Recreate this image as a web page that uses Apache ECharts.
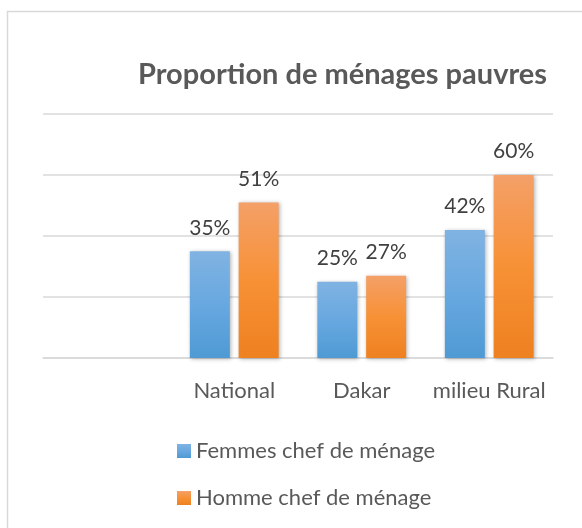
<!DOCTYPE html>
<html>
<head>
<meta charset="utf-8">
<script src="https://cdn.jsdelivr.net/npm/echarts@6/dist/echarts.min.js"></script>
<style>
  html, body { margin: 0; padding: 0; background: #fff; }
  #chart { width: 582px; height: 528px; }
</style>
</head>
<body>
<div id="chart"></div>
<script>
// first category is left empty, like in the source sheet
const categories = ['', 'National', 'Dakar', 'milieu Rural'];
const femmes = [null, 35, 25, 42];
const hommes = [null, 51, 27, 60];
const seriesNames = ['Femmes chef de ménage', 'Homme chef de ménage'];

const font = 'Lato, "Open Sans", sans-serif';

function grad(top, mid, bottom) {
  return new echarts.graphic.LinearGradient(0, 0, 0, 1, [
    { offset: 0, color: top },
    { offset: 0.5, color: mid },
    { offset: 1, color: bottom },
  ]);
}

const blue = grad('#80B3E2', '#68A8E0', '#4F9AD4');
const orange = grad('#F4A068', '#F79136', '#EE8120');

const barLabel = {
  show: true,
  position: 'top',
  distance: 13,
  formatter: '{c}%',
  color: '#404040',
  fontFamily: font,
  fontSize: 21,
};

const chart = echarts.init(document.getElementById('chart'));

chart.setOption({
  animation: false,
  title: {
    text: 'Proportion de ménages pauvres',
    left: 133,
    top: 55,
    textStyle: {
      color: '#595959',
      fontFamily: font,
      fontWeight: 'bold',
      fontSize: 29,
    },
  },
  graphic: [
    {
      type: 'rect',
      shape: { x: 7.5, y: 11.5, width: 620, height: 560 },
      style: { fill: 'none', stroke: '#D9D9D9', lineWidth: 1.5 },
    },
  ],
  legend: {
    orient: 'vertical',
    left: 172,
    top: 435,
    itemWidth: 14,
    itemHeight: 14,
    itemGap: 25,
    icon: 'rect',
    textStyle: { color: '#595959', fontFamily: font, fontSize: 22 },
    data: seriesNames,
  },
  grid: { left: 43, right: 29, top: 114, bottom: 170 },
  xAxis: {
    type: 'category',
    data: categories,
    axisTick: { show: false },
    axisLine: { lineStyle: { color: '#D9D9D9', width: 1.5 } },
    axisLabel: {
      interval: 0,
      margin: 22,
      color: '#595959',
      fontFamily: font,
      fontSize: 22,
    },
  },
  yAxis: {
    type: 'value',
    min: 0,
    max: 80,
    interval: 20,
    axisLabel: { show: false },
    axisLine: { show: false },
    axisTick: { show: false },
    splitLine: { lineStyle: { color: '#D9D9D9', width: 1.5 } },
  },
  series: [
    {
      name: seriesNames[0],
      type: 'bar',
      data: femmes,
      barWidth: 40,
      barGap: '22%',
      itemStyle: {
        color: blue,
        shadowColor: 'rgba(0,0,0,0.3)',
        shadowBlur: 4,
        shadowOffsetX: 1,
        shadowOffsetY: 1,
      },
      label: barLabel,
    },
    {
      name: seriesNames[1],
      type: 'bar',
      data: hommes,
      barWidth: 40,
      itemStyle: {
        color: orange,
        shadowColor: 'rgba(0,0,0,0.3)',
        shadowBlur: 4,
        shadowOffsetX: 1,
        shadowOffsetY: 1,
      },
      label: barLabel,
    },
  ],
});
</script>
</body>
</html>
